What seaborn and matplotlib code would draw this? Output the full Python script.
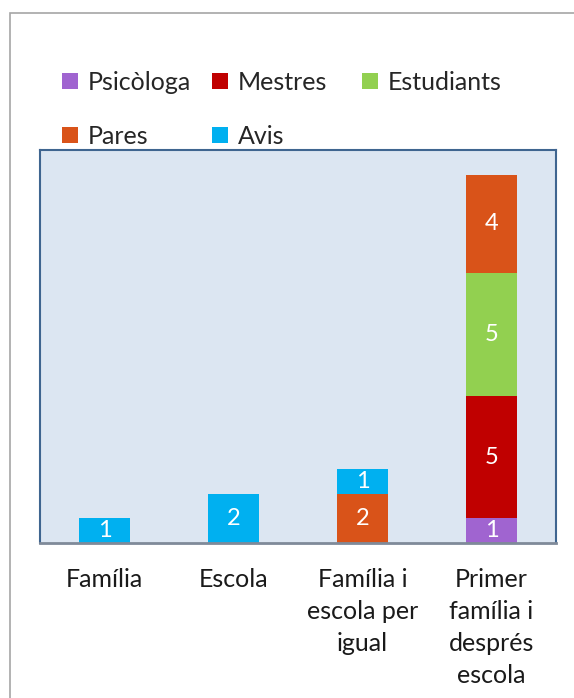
import numpy as np
import pandas as pd
import matplotlib
matplotlib.use("Agg")
import matplotlib.pyplot as plt
from matplotlib.patches import Rectangle, Patch
import seaborn as sns

categories = ["Família", "Escola", "Família i\nescola per\nigual", "Primer\nfamília i\ndesprés\nescola"]
series = ["Psicòloga", "Mestres", "Estudiants", "Pares", "Avis"]
psicologa = [0, 0, 0, 1]
mestres = [0, 0, 0, 5]
estudiants = [0, 0, 0, 5]
pares = [0, 0, 2, 4]
avis = [1, 2, 1, 0]
colors = ["#a064d0", "#c00000", "#92d050", "#d95319", "#00b0f0"]

values = [psicologa, mestres, estudiants, pares, avis]

sns.set_theme(style="white")
plt.rcParams["font.family"] = ["Lato", "DejaVu Sans"]

fig = plt.figure(figsize=(5.74, 6.98), dpi=100)
fig.patches.append(Rectangle((10 / 574, -0.1), 1.2, (698 - 13) / 698 + 0.1,
                             transform=fig.transFigure, fill=False,
                             edgecolor="#a6a6a6", linewidth=1.2))
ax = fig.add_axes([40 / 574, (698 - 543) / 698, 516 / 574, 393 / 698])
ax.set_facecolor("#dce6f2")

bottom = np.zeros(len(categories))
for name, vals, col in zip(series, values, colors):
    df = pd.DataFrame({"cat": categories, "val": vals})
    sns.barplot(data=df, x="cat", y="val", color=col, bottom=bottom,
                width=0.40, ax=ax, saturation=1, linewidth=0)
    for i, v in enumerate(vals):
        if v > 0:
            ax.text(i, bottom[i] + v / 2, str(v), ha="center", va="center",
                    color="white", fontsize=17)
    bottom = bottom + np.array(vals)

ax.set_ylim(0, 16.0)
ax.set_xlim(-0.5, 3.5)
ax.set_xlabel("")
ax.set_ylabel("")
ax.set_yticks([])
ax.tick_params(axis="x", length=0, pad=18, labelsize=18, labelcolor="#1a1a1a")
for lbl in ax.get_xticklabels():
    lbl.set_multialignment("center")
    lbl.set_linespacing(1.47)
for side in ["top", "left", "right"]:
    ax.spines[side].set_color("#3f6590")
    ax.spines[side].set_linewidth(1.5)
ax.spines["bottom"].set_color("#7f8a99")
ax.spines["bottom"].set_linewidth(2)

# legend laid out as three columns, like the original
columns = [[0, 3], [1, 4], [2]]
col_x = [62, 212, 362]
for idx, x in zip(columns, col_x):
    handles = [Patch(facecolor=colors[i], edgecolor="none") for i in idx]
    labels = [series[i] for i in idx]
    fig.legend(handles, labels, loc="upper left",
               bbox_to_anchor=(x / 574, 1 - 71 / 698), frameon=False,
               fontsize=18, handlelength=0.62, handleheight=0.62, handletextpad=0.4,
               borderpad=0, borderaxespad=0, labelspacing=1.22)

fig.savefig("out.png", dpi=100)
